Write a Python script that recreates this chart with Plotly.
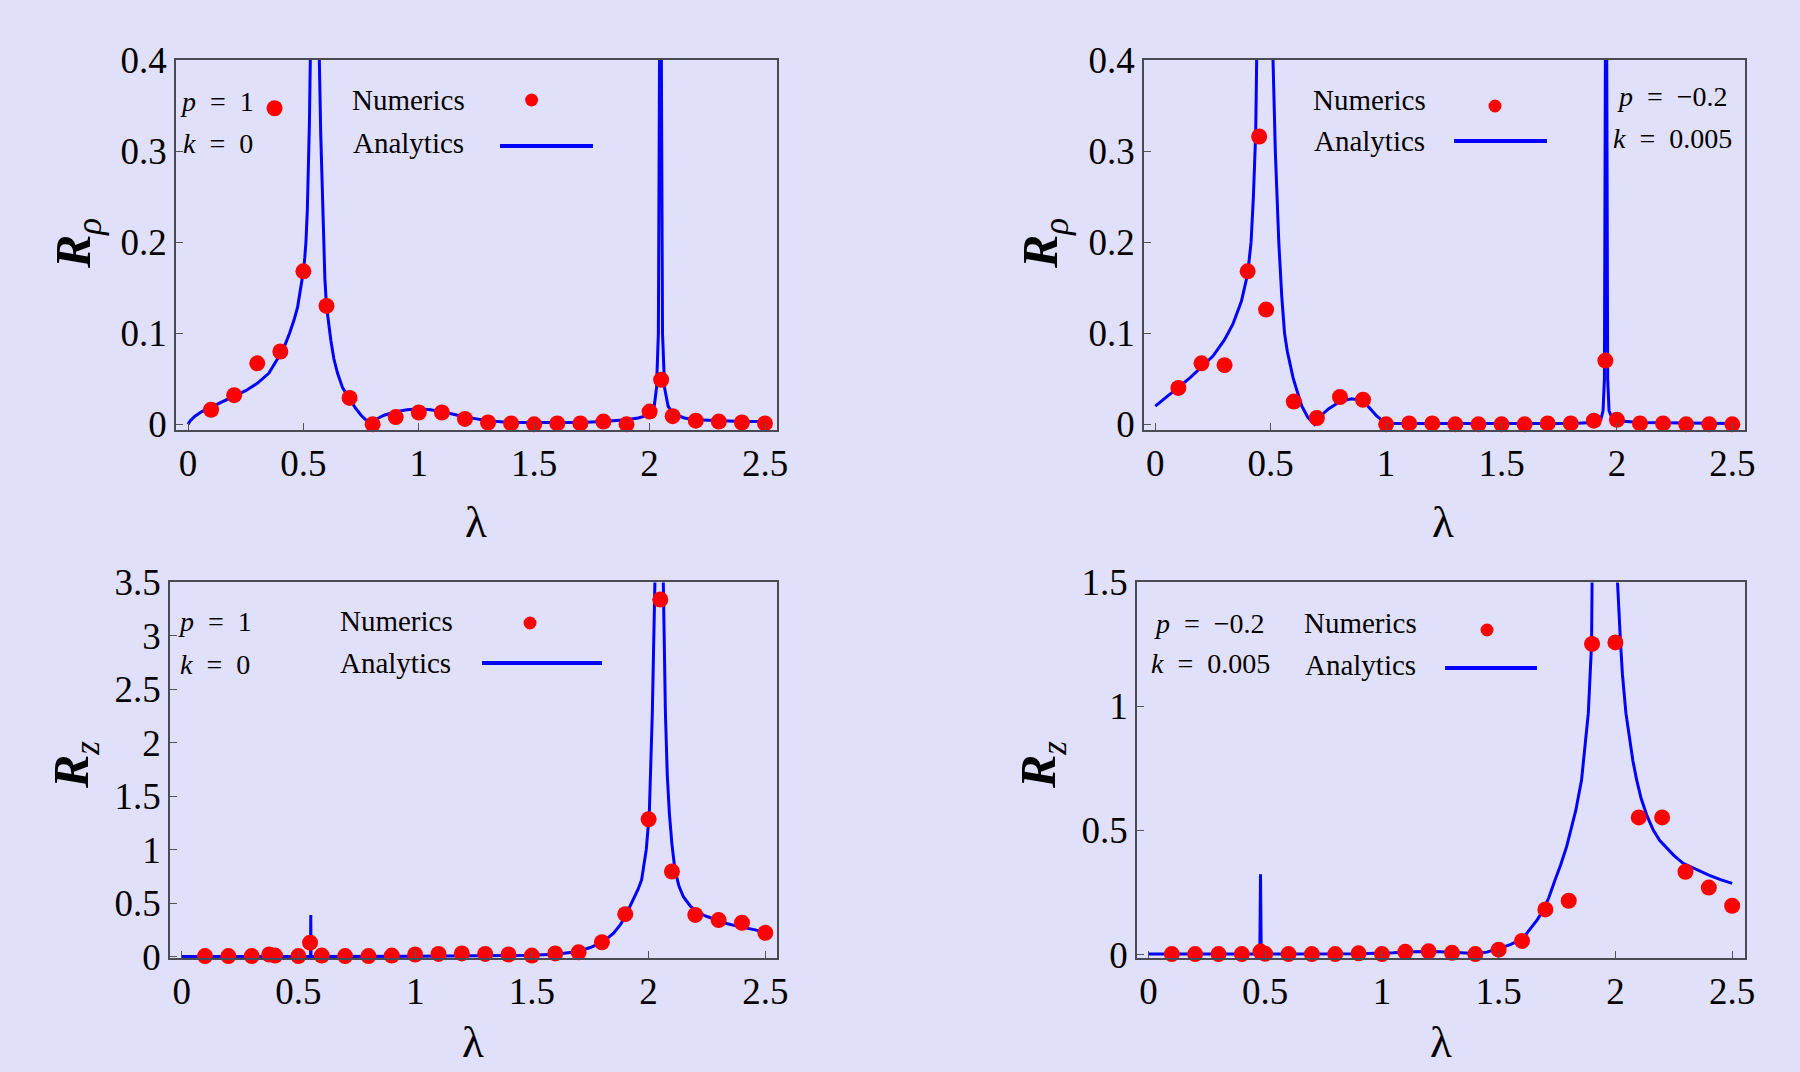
import plotly.graph_objects as go

# ---------------- data ----------------
# Panel A: R_rho, p = 1, k = 0
lam_num_A = [0.1, 0.2, 0.3, 0.375, 0.4, 0.5, 0.6, 0.7, 0.8, 0.9, 1.0, 1.1, 1.2, 1.3, 1.4,
             1.5, 1.6, 1.7, 1.8, 1.9, 2.0, 2.05, 2.1, 2.2, 2.3, 2.4, 2.5]
R_num_A = [0.016, 0.032, 0.067, 0.347, 0.08, 0.168, 0.13, 0.029, 0.0, 0.008, 0.013, 0.013,
           0.006, 0.002, 0.001, 0.0, 0.001, 0.001, 0.003, 0.0, 0.014, 0.049, 0.009, 0.004,
           0.003, 0.002, 0.001]
lam_an_A = [0.0, 0.01, 0.03, 0.06, 0.1, 0.15, 0.2, 0.25, 0.3, 0.35, 0.4, 0.42, 0.44, 0.46,
            0.475, 0.49, 0.5, 0.506, 0.511, 0.517, 0.522, 0.526, 0.53, 0.54, 0.55, 0.56,
            0.569, 0.575, 0.58, 0.587, 0.593, 0.6, 0.61, 0.619, 0.632, 0.648, 0.67, 0.7,
            0.725, 0.75, 0.77, 0.786, 0.8, 0.825, 0.85, 0.9, 0.95, 1.0, 1.05, 1.1, 1.15,
            1.2, 1.25, 1.3, 1.4, 1.5, 1.6, 1.7, 1.8, 1.9, 1.95, 1.98, 2.0, 2.02, 2.03,
            2.038, 2.043, 2.047, 2.051, 2.056, 2.065, 2.08, 2.1, 2.15, 2.2, 2.3, 2.4, 2.5]
R_an_A = [0.0, 0.004, 0.009, 0.014, 0.019, 0.025, 0.031, 0.037, 0.045, 0.056, 0.077, 0.087,
          0.1, 0.115, 0.129, 0.15, 0.168, 0.183, 0.2, 0.235, 0.274, 0.33, 0.4, 0.9, 5.0,
          0.9, 0.4, 0.32, 0.274, 0.2, 0.16, 0.13, 0.108, 0.092, 0.072, 0.056, 0.04, 0.028,
          0.018, 0.01, 0.005, 0.001, 0.003, 0.007, 0.01, 0.014, 0.016, 0.017, 0.016, 0.014,
          0.011, 0.008, 0.006, 0.004, 0.002, 0.002, 0.002, 0.002, 0.003, 0.005, 0.007,
          0.009, 0.012, 0.02, 0.04, 0.1, 0.4, 3.0, 0.4, 0.1, 0.04, 0.02, 0.012, 0.007,
          0.005, 0.004, 0.003, 0.003]

# Panel B: R_rho, p = -0.2, k = 0.005
lam_num_B = [0.1, 0.2, 0.3, 0.4, 0.45, 0.48, 0.6, 0.7, 0.8, 0.9, 1.0, 1.1, 1.2, 1.3, 1.4,
             1.5, 1.6, 1.7, 1.8, 1.9, 1.95, 2.0, 2.1, 2.2, 2.3, 2.4, 2.5]
R_num_B = [0.04, 0.067, 0.065, 0.168, 0.316, 0.126, 0.025, 0.007, 0.03, 0.027, 0.0, 0.001,
           0.001, 0.0, 0.0, 0.0, 0.0, 0.001, 0.001, 0.004, 0.07, 0.005, 0.001, 0.001, 0.0,
           0.0, 0.0]
lam_an_B = [0.0, 0.05, 0.1, 0.15, 0.2, 0.25, 0.3, 0.336, 0.373, 0.4, 0.415, 0.425, 0.435,
            0.445, 0.46, 0.475, 0.49, 0.5, 0.51, 0.52, 0.535, 0.548, 0.56, 0.572, 0.585,
            0.597, 0.61, 0.622, 0.635, 0.66, 0.69, 0.72, 0.75, 0.8, 0.85, 0.9, 0.93, 0.96,
            1.0, 1.2, 1.5, 1.8, 1.9, 1.93, 1.94, 1.946, 1.95, 1.953, 1.956, 1.96, 1.966,
            1.98, 2.0, 2.1, 2.5]
R_an_B = [0.02, 0.03, 0.04, 0.051, 0.063, 0.075, 0.093, 0.11, 0.135, 0.165, 0.2, 0.25, 0.32,
          0.42, 0.8, 5.0, 1.2, 0.6, 0.4, 0.3, 0.2, 0.14, 0.1, 0.08, 0.065, 0.051, 0.04,
          0.029, 0.02, 0.008, 0.0, 0.01, 0.017, 0.025, 0.028, 0.026, 0.018, 0.009, 0.001,
          0.001, 0.001, 0.001, 0.002, 0.005, 0.015, 0.05, 0.4, 3.0, 0.4, 0.05, 0.015,
          0.006, 0.004, 0.002, 0.001]

# Panel C: R_z, p = 1, k = 0
lam_num_C = [0.1, 0.2, 0.3, 0.375, 0.4, 0.5, 0.55, 0.6, 0.7, 0.8, 0.9, 1.0, 1.1, 1.2, 1.3,
             1.4, 1.5, 1.6, 1.7, 1.8, 1.9, 2.0, 2.05, 2.1, 2.2, 2.3, 2.4, 2.5]
R_num_C = [0.005, 0.005, 0.005, 0.02, 0.01, 0.005, 0.13, 0.01, 0.005, 0.005, 0.01, 0.02,
           0.025, 0.03, 0.025, 0.02, 0.01, 0.03, 0.04, 0.134, 0.397, 1.285, 3.34, 0.796,
           0.39, 0.342, 0.317, 0.222]
lam_an_C = [0.0, 0.3, 0.552, 0.553, 0.554, 1.0, 1.4, 1.5, 1.6, 1.65, 1.692, 1.75, 1.806,
            1.85, 1.88, 1.906, 1.925, 1.94, 1.955, 1.97, 1.98, 1.99, 2.003, 2.01, 2.016,
            2.027, 2.036, 2.045, 2.054, 2.063, 2.072, 2.08, 2.089, 2.1, 2.113, 2.13, 2.149,
            2.165, 2.18, 2.2, 2.22, 2.25, 2.28, 2.3, 2.334, 2.37, 2.4, 2.45, 2.49, 2.5]
R_an_C = [0.0, 0.0, 0.0, 0.39, 0.0, 0.003, 0.008, 0.012, 0.022, 0.032, 0.046, 0.085, 0.14,
          0.22, 0.3, 0.405, 0.49, 0.56, 0.63, 0.717, 0.84, 1.0, 1.34, 1.75, 2.28, 3.5, 6.0,
          12.0, 6.0, 3.5, 2.28, 1.7, 1.34, 1.05, 0.81, 0.66, 0.56, 0.51, 0.47, 0.435,
          0.405, 0.375, 0.35, 0.335, 0.31, 0.29, 0.275, 0.25, 0.233, 0.23]

# Panel D: R_z, p = -0.2, k = 0.005
lam_num_D = [0.1, 0.2, 0.3, 0.4, 0.48, 0.5, 0.6, 0.7, 0.8, 0.9, 1.0, 1.1, 1.2, 1.3, 1.4,
             1.5, 1.6, 1.7, 1.8, 1.9, 2.0, 2.1, 2.2, 2.3, 2.4, 2.5]
R_num_D = [0.002, 0.002, 0.002, 0.002, 0.012, 0.003, 0.002, 0.002, 0.002, 0.005, 0.002,
           0.011, 0.013, 0.007, 0.002, 0.02, 0.055, 0.182, 0.217, 1.252, 1.258, 0.553,
           0.553, 0.334, 0.27, 0.197]
lam_an_D = [0.0, 0.477, 0.48, 0.483, 0.9, 1.0, 1.05, 1.1, 1.15, 1.2, 1.25, 1.3, 1.35, 1.4,
            1.45, 1.505, 1.55, 1.591, 1.62, 1.64, 1.665, 1.691, 1.715, 1.741, 1.765, 1.791,
            1.815, 1.83, 1.855, 1.87, 1.884, 1.898, 1.905, 1.93, 1.955, 1.98, 2.009, 2.022,
            2.03, 2.045, 2.06, 2.075, 2.091, 2.11, 2.135, 2.162, 2.19, 2.22, 2.25, 2.29,
            2.34, 2.4, 2.45, 2.5]
R_an_D = [0.002, 0.002, 0.324, 0.002, 0.003, 0.004, 0.007, 0.01, 0.012, 0.012, 0.011, 0.009,
          0.006, 0.004, 0.01, 0.025, 0.04, 0.059, 0.085, 0.11, 0.14, 0.18, 0.23, 0.3, 0.36,
          0.435, 0.52, 0.58, 0.704, 0.83, 0.973, 1.255, 1.5, 3.0, 8.0, 3.0, 1.5, 1.255,
          1.13, 0.973, 0.87, 0.78, 0.704, 0.63, 0.56, 0.502, 0.46, 0.43, 0.4, 0.368, 0.345,
          0.32, 0.302, 0.287]

x_tickvals = [0, 0.5, 1, 1.5, 2, 2.5]
x_ticktext = ["0", "0.5", "1", "1.5", "2", "2.5"]
y_tickvals_rho = [0, 0.1, 0.2, 0.3, 0.4]
y_ticktext_rho = ["0", "0.1", "0.2", "0.3", "0.4"]
y_tickvals_zA = [0, 0.5, 1, 1.5, 2, 2.5, 3, 3.5]
y_ticktext_zA = ["0", "0.5", "1", "1.5", "2", "2.5", "3", "3.5"]
y_tickvals_zB = [0, 0.5, 1, 1.5]
y_ticktext_zB = ["0", "0.5", "1", "1.5"]

# ---------------- styling ----------------
W, H = 1800, 1072
BG = "#E0E0FA"
FONT = "Liberation Serif"
RED = "#FF0000"
BLUE = "#0000FF"


def px(x):
    return x / W


def py(y):
    return 1 - y / H


fig = go.Figure()

panels = [
    ("x", "y", lam_num_A, R_num_A, lam_an_A, R_an_A),
    ("x2", "y2", lam_num_B, R_num_B, lam_an_B, R_an_B),
    ("x3", "y3", lam_num_C, R_num_C, lam_an_C, R_an_C),
    ("x4", "y4", lam_num_D, R_num_D, lam_an_D, R_an_D),
]
for xa, ya, ln, rn, la, ra in panels:
    fig.add_trace(go.Scatter(x=la, y=ra, mode="lines", xaxis=xa, yaxis=ya,
                             line=dict(color=BLUE, width=3), showlegend=False,
                             hoverinfo="skip"))
    fig.add_trace(go.Scatter(x=ln, y=rn, mode="markers", xaxis=xa, yaxis=ya,
                             marker=dict(color=RED, size=16, line=dict(width=0)),
                             cliponaxis=False, showlegend=False))

xdom = [[px(176), px(777)], [px(1144), px(1745)], [px(170), px(777)], [px(1137), px(1745)]]
ydom = [[py(430), py(60)], [py(430), py(60)], [py(958), py(582.4)], [py(958), py(582.4)]]
xr = [[-0.052, 2.552], [-0.049, 2.555], [-0.05, 2.55], [-0.049, 2.555]]
yr = [[-0.0062, 0.4], [-0.0062, 0.4], [-0.013, 3.5], [-0.0137, 1.5]]
ytv = [y_tickvals_rho, y_tickvals_rho, y_tickvals_zA, y_tickvals_zB]
ytt = [y_ticktext_rho, y_ticktext_rho, y_ticktext_zA, y_ticktext_zB]

axis_common = dict(showgrid=False, zeroline=False, showline=True, mirror=True,
                   linecolor="#4a4a55", linewidth=1.5, ticks="inside", ticklen=7,
                   tickwidth=1, tickcolor="#555555", automargin=False,
                   tickfont=dict(family=FONT, size=37, color="black"))
layout = {}
for i in range(4):
    sx = "xaxis" if i == 0 else f"xaxis{i+1}"
    sy = "yaxis" if i == 0 else f"yaxis{i+1}"
    anchor_y = "y" if i == 0 else f"y{i+1}"
    anchor_x = "x" if i == 0 else f"x{i+1}"
    layout[sx] = dict(axis_common, domain=xdom[i], range=xr[i], anchor=anchor_y,
                      tickmode="array", tickvals=x_tickvals, ticktext=x_ticktext,
                      ticklabelstandoff=0)
    layout[sy] = dict(axis_common, domain=ydom[i], range=yr[i], anchor=anchor_x,
                      tickmode="array", tickvals=ytv[i], ticktext=ytt[i],
                      ticklabelstandoff=0)

fig.update_layout(width=W, height=H, margin=dict(l=0, r=0, t=0, b=0, autoexpand=False),
                  paper_bgcolor=BG, plot_bgcolor=BG, showlegend=False, **layout)

ann = []


def text(x, y, s, size=29, anchor="center", angle=0):
    ann.append(dict(x=px(x), y=py(y), xref="paper", yref="paper", text=s,
                    showarrow=False, xanchor=anchor, yanchor="middle", textangle=angle,
                    font=dict(family=FONT, size=size, color="black")))


# axis titles
for cx, cy in [(476, 522), (1443, 522), (473, 1042), (1441, 1042)]:
    text(cx, cy, "λ", size=45)
text(77, 244, "<b><i>R</i></b><sub><i>ρ</i></sub>", size=50, angle=-90)
text(1044, 244, "<b><i>R</i></b><sub><i>ρ</i></sub>", size=50, angle=-90)
text(75, 765, "<b><i>R</i></b><sub><i>z</i></sub>", size=50, angle=-90)
text(1042, 765, "<b><i>R</i></b><sub><i>z</i></sub>", size=50, angle=-90)

EQ = "\u00a0\u00a0=\u00a0\u00a0"
# parameter labels
text(217, 101, "<i>p</i>" + EQ + "1", size=28)
text(218, 143, "<i>k</i>" + EQ + "0", size=28)
text(1672, 96, "<i>p</i>" + EQ + "−0.2", size=28)
text(1672, 139, "<i>k</i>" + EQ + "0.005", size=28)
text(215, 621, "<i>p</i>" + EQ + "1", size=28)
text(215, 664, "<i>k</i>" + EQ + "0", size=28)
text(1209, 623, "<i>p</i>" + EQ + "−0.2", size=28)
text(1210, 663, "<i>k</i>" + EQ + "0.005", size=28)

# legend labels
leg = [  # numerics text (cx, cy), analytics text (cx, cy), marker (x, y), line (x0, x1, y)
    ((408, 100), (408, 143), (531.6, 100), (500, 593, 146)),
    ((1369.5, 100), (1369.5, 141), (1495, 106), (1454, 1547, 141)),
    ((396, 621), (395.5, 663), (530, 623), (482, 602, 663)),
    ((1360.5, 623), (1360.5, 665), (1487, 630), (1445, 1537, 668)),
]
shapes = []
for (nx, ny), (ax_, ay), (mx, my), (l0, l1, ly) in leg:
    text(nx, ny, "Numerics")
    text(ax_, ay, "Analytics")
    shapes.append(dict(type="circle", xref="paper", yref="paper", xsizemode="pixel",
                       ysizemode="pixel", xanchor=px(mx), yanchor=py(my),
                       x0=-6.5, x1=6.5, y0=-6.5, y1=6.5,
                       fillcolor=RED, line=dict(width=0)))
    shapes.append(dict(type="line", xref="paper", yref="paper", x0=px(l0), x1=px(l1),
                       y0=py(ly), y1=py(ly), line=dict(color=BLUE, width=4)))

fig.update_layout(annotations=ann, shapes=shapes)
fig.write_html("out.html")
